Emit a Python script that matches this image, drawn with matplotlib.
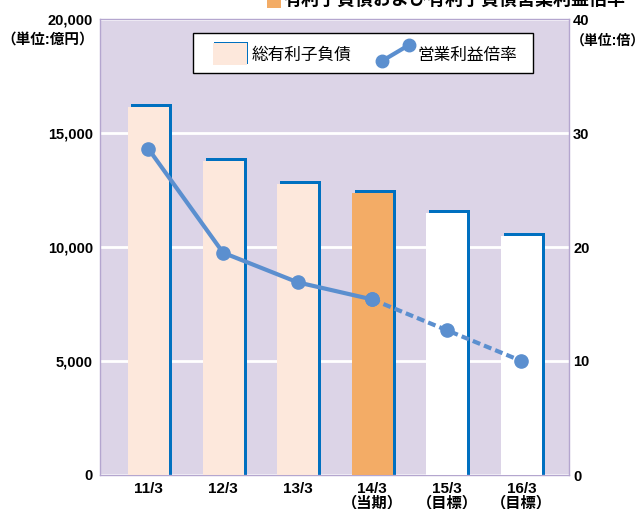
import matplotlib
matplotlib.use('Agg')
from matplotlib import pyplot as plt
from matplotlib.patches import Rectangle
from matplotlib.lines import Line2D

plt.rcParams['font.family'] = ['Liberation Sans', 'Noto Sans CJK JP']

categories = ['11/3', '12/3', '13/3', '14/3\n（当期）', '15/3\n（目標）', '16/3\n（目標）']
debt = [16150, 13770, 12760, 12380, 11500, 10480]          # 総有利子負債 (億円)
ratio = [28.6, 19.5, 16.9, 15.4, 12.7, 10.0]               # 営業利益倍率 (倍)
y_left_ticks = [0, 5000, 10000, 15000, 20000]
y_right_ticks = [0, 10, 20, 30, 40]

W, H = 641, 509
bg = '#dcd4e7'
peach = '#fde8dc'
orange = '#f3ac66'
blue = '#0070c0'
line_blue = '#5b8fcf'
bar_colors = [peach, peach, peach, orange, 'white', 'white']


def fx(px):
    return px / W


def fy(py):
    return 1 - py / H


fig = plt.figure(figsize=(W / 100, H / 100), dpi=100)
ax = fig.add_axes([fx(100), fy(475), fx(569) - fx(100), fy(19) - fy(475)])
ax.set_facecolor(bg)

x = list(range(len(categories)))
bw = 0.55
# blue offset block behind each bar
ax.bar([i + 0.04 for i in x], [d + 130 for d in debt], width=bw, color=blue, zorder=2)
ax.bar(x, debt, width=bw, color=bar_colors, zorder=3)

ax.set_xlim(-0.65, 5.637)
ax.set_ylim(0, 20000)
ax.set_yticks(y_left_ticks)
ax.set_yticklabels([f'{v:,}' for v in y_left_ticks])
ax.set_xticks(x)
ax.set_xticklabels(categories, linespacing=1.0)
ax.yaxis.grid(True, color='white', linewidth=2)
ax.set_axisbelow(True)
ax.tick_params(axis='y', length=0, labelsize=10.5, pad=5)
ax.tick_params(axis='x', length=0, labelsize=11, pad=5)
for lab in ax.get_xticklabels() + ax.get_yticklabels():
    lab.set_fontweight('bold')
for s in ax.spines.values():
    s.set_color('#b4a6cf')
    s.set_linewidth(1)

ax2 = ax.twinx()
ax2.set_ylim(0, 40)
ax2.set_yticks(y_right_ticks)
ax2.tick_params(length=0, labelsize=10.5, pad=3)
for lab in ax2.get_yticklabels():
    lab.set_fontweight('bold')
for s in ax2.spines.values():
    s.set_visible(False)

ax2.plot(x[:4], ratio[:4], color=line_blue, linewidth=3, marker='o', markersize=9.5, zorder=5)
ax2.plot(x[3:], ratio[3:], color=line_blue, linewidth=3, linestyle=(0, (1.9, 1.0)),
         marker='o', markersize=9.5, zorder=5)

# unit labels
fig.text(fx(94), fy(41), '（単位:億円）', ha='right', va='center', fontsize=10.5, fontweight='bold')
fig.text(fx(571), fy(41), '（単位:倍）', ha='left', va='center', fontsize=10, fontweight='bold')

# legend box
fig.add_artist(Rectangle((fx(193), fy(73)), fx(533) - fx(193), fy(33) - fy(73),
                         transform=fig.transFigure, facecolor='white', edgecolor='black',
                         linewidth=1, zorder=10))
fig.add_artist(Rectangle((fx(214), fy(64)), fx(34), fy(0) - fy(22),
                         transform=fig.transFigure, facecolor=blue, edgecolor='none', zorder=11))
fig.add_artist(Rectangle((fx(213), fy(65)), fx(34), fy(0) - fy(22),
                         transform=fig.transFigure, facecolor=peach, edgecolor='none', zorder=12))
fig.text(fx(252), fy(55), '総有利子負債', ha='left', va='center', fontsize=12, zorder=12)
fig.add_artist(Line2D([fx(382), fx(409)], [fy(61), fy(45)], transform=fig.transFigure,
                      color=line_blue, linewidth=3, marker='o', markersize=9, zorder=12))
fig.text(fx(418), fy(55), '営業利益倍率', ha='left', va='center', fontsize=12, zorder=12)

# title, clipped at the top edge
fig.add_artist(Rectangle((fx(267), fy(8)), fx(14), fy(0) - fy(14),
                         transform=fig.transFigure, facecolor=orange, edgecolor='none'))
fig.text(fx(284), fy(0), '有利子負債および有利子負債営業利益倍率', ha='left', va='center',
         fontsize=13, fontweight='bold')

fig.savefig('out.png', dpi=100)
